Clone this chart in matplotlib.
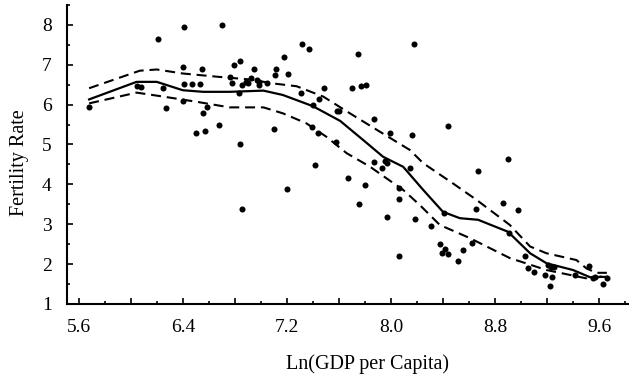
import matplotlib
matplotlib.use("Agg")
import matplotlib.pyplot as plt
import matplotlib.ticker as ticker

plt.rcParams["font.family"] = ["Liberation Serif", "DejaVu Serif"]

# scatter: ln(GDP per capita) vs fertility rate
ln_gdp = [
    5.68, 6.045, 6.076, 6.207, 6.245, 6.27, 6.41, 6.40, 6.41, 6.40,
    6.47, 6.53, 6.547, 6.50, 6.557, 6.59, 6.57, 6.68, 6.70, 6.76,
    6.78, 6.79, 6.84, 6.834, 6.84, 6.857, 6.885, 6.90, 6.857, 6.927,
    6.947, 6.968, 6.985, 6.985, 7.05, 7.10, 7.113, 7.108, 7.18, 7.208,
    7.203, 7.313, 7.31, 7.372, 7.39, 7.40, 7.418, 7.436, 7.45, 7.485,
    7.575, 7.585, 7.60, 7.67, 7.70, 7.744, 7.77, 7.81, 7.754, 7.797,
    7.87, 7.87, 7.933, 7.956, 7.97, 7.97, 7.99, 8.063, 8.063, 8.06,
    8.148, 8.16, 8.174, 8.184, 8.31, 8.38, 8.407, 8.417, 8.39, 8.44,
    8.44, 8.553, 8.517, 8.622, 8.655, 8.668, 8.862, 8.899, 8.908, 8.978,
    9.03, 9.055, 9.10, 9.188, 9.206, 9.221, 9.234, 9.239, 9.254, 9.413,
    9.52, 9.554, 9.572, 9.63, 9.66,
]
fertility = [
    5.93, 6.46, 6.45, 7.65, 6.41, 5.92, 7.95, 6.95, 6.51, 6.09,
    6.52, 6.51, 6.89, 5.29, 5.79, 5.94, 5.34, 5.50, 7.99, 6.68,
    6.55, 6.99, 7.09, 6.28, 5.00, 6.50, 6.57, 6.53, 3.38, 6.66,
    6.89, 6.61, 6.57, 6.49, 6.53, 5.38, 6.89, 6.74, 7.20, 6.77,
    3.89, 7.52, 6.29, 7.39, 5.45, 5.99, 4.49, 5.28, 6.14, 6.42,
    5.05, 5.85, 5.85, 4.15, 6.41, 7.26, 6.46, 6.49, 3.50, 3.99,
    5.64, 4.55, 4.40, 4.59, 4.53, 3.19, 5.28, 3.92, 3.64, 2.20,
    4.40, 5.24, 7.52, 3.13, 2.95, 2.50, 3.27, 2.38, 2.28, 2.25,
    5.47, 2.36, 2.08, 2.54, 3.38, 4.33, 3.54, 4.63, 2.79, 3.36,
    2.19, 1.91, 1.81, 1.72, 1.98, 1.44, 1.92, 1.67, 1.92, 1.72,
    1.95, 1.66, 1.68, 1.50, 1.66,
]

# smoothed fit
fit_x = [5.68, 6.045, 6.20, 6.40, 6.557, 6.76, 7.02, 7.17, 7.40, 7.61,
         7.787, 7.94, 8.094, 8.248, 8.40, 8.53, 8.67, 8.90, 9.07, 9.196,
         9.40, 9.53, 9.66]
fit_y = [6.13, 6.57, 6.57, 6.36, 6.32, 6.32, 6.35, 6.24, 5.96, 5.59,
         5.11, 4.69, 4.44, 3.86, 3.31, 3.15, 3.11, 2.81, 2.27, 2.02,
         1.85, 1.67, 1.68]

# upper band
up_x = [5.68, 6.07, 6.20, 6.40, 6.66, 6.916, 7.095, 7.275, 7.48, 7.685,
        7.915, 8.146, 8.248, 8.478, 8.658, 8.914, 9.07, 9.196, 9.426, 9.503,
        9.58, 9.66]
up_y = [6.41, 6.85, 6.88, 6.78, 6.70, 6.63, 6.53, 6.46, 6.20, 5.78,
        5.32, 4.86, 4.53, 4.02, 3.61, 2.98, 2.44, 2.27, 2.10, 1.89,
        1.78, 1.78]

# lower band
lo_x = [5.68, 6.045, 6.25, 6.507, 6.76, 7.02, 7.17, 7.35, 7.505, 7.66,
        7.84, 7.966, 8.094, 8.222, 8.376, 8.607, 8.914, 9.196, 9.503, 9.515,
        9.66]
lo_y = [6.03, 6.30, 6.20, 6.07, 5.93, 5.93, 5.78, 5.53, 5.19, 4.78,
        4.44, 4.15, 3.86, 3.48, 2.98, 2.65, 2.15, 1.85, 1.64, 1.60,
        1.73]

x_labels = ["5.6", "6.4", "7.2", "8.0", "8.8", "9.6"]


def main():
    fig = plt.figure(figsize=(6.29, 3.78), dpi=100)
    ax = fig.add_axes([0.1065, 0.196, 0.8935, 0.791])

    ax.scatter(ln_gdp, fertility, s=19, color="black", zorder=3, linewidths=0)
    ax.plot(fit_x, fit_y, color="black", lw=1.6)
    ax.plot(up_x, up_y, color="black", lw=1.5, dashes=(4.8, 2.8))
    ax.plot(lo_x, lo_y, color="black", lw=1.5, dashes=(4.8, 2.8))

    ax.set_xlim(5.51, 9.83)
    ax.set_ylim(1, 8.5)

    for side in ("top", "right"):
        ax.spines[side].set_visible(False)
    for side in ("left", "bottom"):
        ax.spines[side].set_linewidth(1.5)

    # major ticks every 0.4, labelled every 0.8
    ax.xaxis.set_major_locator(ticker.MultipleLocator(0.4))
    ax.xaxis.set_minor_locator(ticker.MultipleLocator(0.2))
    lab = {round(float(s), 1): s for s in x_labels}
    ax.xaxis.set_major_formatter(
        ticker.FuncFormatter(lambda v, p: lab.get(round(v, 1), "")))
    ax.yaxis.set_major_locator(ticker.MultipleLocator(1))
    ax.yaxis.set_minor_locator(ticker.MultipleLocator(0.5))

    ax.tick_params(which="both", direction="in", labelsize=14, pad=11, width=1.2)
    ax.tick_params(which="major", length=4)
    ax.tick_params(which="minor", length=2.5)

    ax.set_xlabel("Ln(GDP per Capita)", fontsize=14.5)
    ax.set_ylabel("Fertility Rate", fontsize=14.5)
    ax.xaxis.set_label_coords(0.534, -0.168)
    ax.yaxis.set_label_coords(-0.068, 0.472)

    fig.savefig("out.png", dpi=100)


if __name__ == "__main__":
    main()
